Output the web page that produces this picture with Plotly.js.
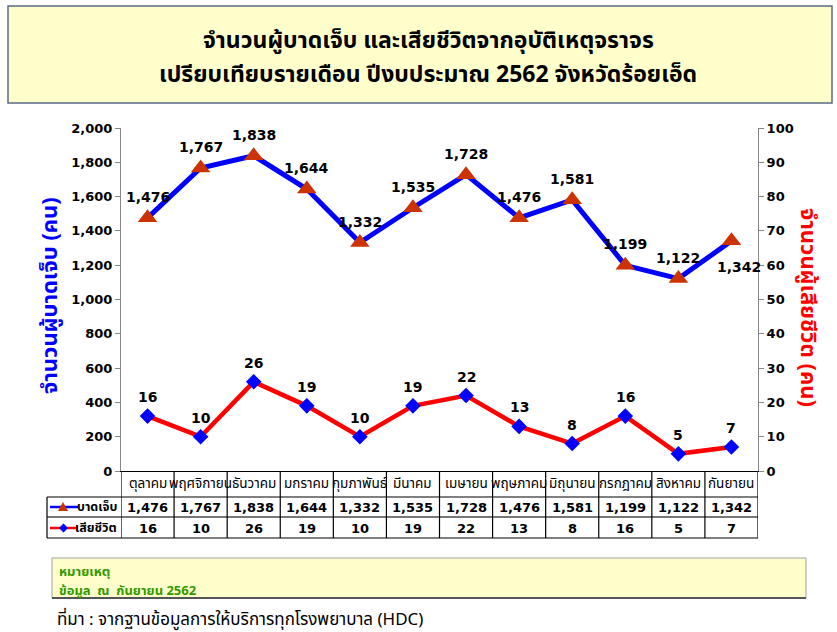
<!DOCTYPE html>
<html>
<head>
<meta charset="utf-8">
<script src="https://cdn.plot.ly/plotly-3.0.1.min.js"></script>
<style>
html,body{margin:0;padding:0;background:#fff;}
#chart{width:837px;height:632px;}
</style>
</head>
<body>
<div id="chart"></div>
<script>
// ---- data ----
var categories = ['ตุลาคม','พฤศจิกายน','ธันวาคม','มกราคม','กุมภาพันธ์','มีนาคม','เมษายน','พฤษภาคม','มิถุนายน','กรกฎาคม','สิงหาคม','กันยายน'];
var injured = [1476,1767,1838,1644,1332,1535,1728,1476,1581,1199,1122,1342];
var deaths = [16,10,26,19,10,19,22,13,8,16,5,7];
var seriesNames = ['บาดเจ็บ','เสียชีวิต'];
var titleLines = ['จำนวนผู้บาดเจ็บ และเสียชีวิตจากอุบัติเหตุจราจร','เปรียบเทียบรายเดือน ปีงบประมาณ 2562 จังหวัดร้อยเอ็ด'];
var leftTitle = 'จำนวนผู้บาดเจ็บ (คน)';
var rightTitle = 'จำนวนผู้เสียชีวิต (คน)';
var noteLines = ['หมายเหตุ','ข้อมูล  ณ  กันยายน 2562'];
var sourceText = 'ที่มา : จากฐานข้อมูลการให้บริการทุกโรงพยาบาล (HDC)';

// ---- geometry helpers (pixel -> paper) ----
var W = 837, H = 632;
var L = 121, R = 758, T = 128, B = 471;
function px(x){ return (x - L) / (R - L); }
function py(y){ return (B - y) / (B - T); }

var thai = 'Tahoma, "Noto Sans Thai", "Noto Sans", "DejaVu Sans", sans-serif';
var num = '"DejaVu Sans", Verdana, sans-serif';
function fmt(v){ return v.toLocaleString('en-US'); }

var traces = [
  {
    x: categories, y: injured, name: seriesNames[0], type: 'scatter', mode: 'lines+markers',
    line: {color: '#0000FF', width: 5},
    marker: {symbol: 'triangle-up', size: 17, color: '#CC3300', line: {width: 0}},
    yaxis: 'y', hoverinfo: 'skip', cliponaxis: false
  },
  {
    x: categories, y: deaths, name: seriesNames[1], type: 'scatter', mode: 'lines+markers',
    line: {color: '#FF0000', width: 4.5},
    marker: {symbol: 'diamond', size: 12, color: '#0000FF', line: {width: 0}},
    yaxis: 'y2', hoverinfo: 'skip', cliponaxis: false
  }
];

var annotations = [];
var shapes = [];

// title box
shapes.push({type:'rect', xref:'paper', yref:'paper', x0:px(8), x1:px(832), y0:py(103), y1:py(6),
  fillcolor:'#FFFFCC', line:{color:'#5A6A86', width:1.5}, layer:'below'});
annotations.push({xref:'paper', yref:'paper', x:px(428), y:py(41), text:'<b>'+titleLines[0]+'</b>',
  showarrow:false, font:{family:thai, size:23, color:'#000'}, xanchor:'center', yanchor:'middle'});
annotations.push({xref:'paper', yref:'paper', x:px(428), y:py(75), text:'<b>'+titleLines[1]+'</b>',
  showarrow:false, font:{family:thai, size:23, color:'#000'}, xanchor:'center', yanchor:'middle'});

// axis titles
annotations.push({xref:'paper', yref:'paper', x:px(50), y:py(296), text:'<b>'+leftTitle+'</b>', textangle:-90,
  showarrow:false, font:{family:thai, size:22, color:'#0000FF'}, xanchor:'center', yanchor:'middle'});
annotations.push({xref:'paper', yref:'paper', x:px(808), y:py(307), text:'<b>'+rightTitle+'</b>', textangle:90,
  showarrow:false, font:{family:thai, size:22, color:'#FF0000'}, xanchor:'center', yanchor:'middle'});

// data labels
for (var i = 0; i < categories.length; i++) {
  var last = (i === categories.length - 1);
  annotations.push({x:categories[i], y:injured[i], xref:'x', yref:'y', text:'<b>'+fmt(injured[i])+'</b>',
    showarrow:false, font:{family:num, size:14, color:'#000'}, yshift: last ? -26 : 21, xshift: last ? 8 : 0});
  annotations.push({x:categories[i], y:deaths[i], xref:'x', yref:'y2', text:'<b>'+deaths[i]+'</b>',
    showarrow:false, font:{family:num, size:14, color:'#000'}, yshift:19});
}

// data table
var rowCat = 484, row1 = 507, row2 = 528;
for (var i = 0; i < categories.length; i++) {
  annotations.push({x:categories[i], xref:'x', yref:'paper', y:py(rowCat), text:categories[i],
    showarrow:false, font:{family:thai, size:13.5, color:'#000'}, yanchor:'middle'});
  annotations.push({x:categories[i], xref:'x', yref:'paper', y:py(row1), text:'<b>'+fmt(injured[i])+'</b>',
    showarrow:false, font:{family:num, size:13, color:'#000'}, yanchor:'middle'});
  annotations.push({x:categories[i], xref:'x', yref:'paper', y:py(row2), text:'<b>'+deaths[i]+'</b>',
    showarrow:false, font:{family:num, size:13, color:'#000'}, yanchor:'middle'});
}
// table row labels
annotations.push({xref:'paper', yref:'paper', x:px(119), y:py(row1), text:'<b>'+seriesNames[0]+'</b>',
  showarrow:false, font:{family:thai, size:12.5, color:'#000'}, xanchor:'right', yanchor:'middle'});
annotations.push({xref:'paper', yref:'paper', x:px(119), y:py(row2), text:'<b>'+seriesNames[1]+'</b>',
  showarrow:false, font:{family:thai, size:12.5, color:'#000'}, xanchor:'right', yanchor:'middle'});
// legend keys
shapes.push({type:'line', xref:'paper', yref:'paper', x0:px(50), x1:px(78), y0:py(row1), y1:py(row1), line:{color:'#0000FF', width:2.5}});
shapes.push({type:'path', xref:'paper', yref:'paper',
  path:'M'+px(58)+','+py(row1+4)+' L'+px(68)+','+py(row1+4)+' L'+px(63)+','+py(row1-5)+' Z',
  fillcolor:'#CC3300', line:{width:0}});
shapes.push({type:'line', xref:'paper', yref:'paper', x0:px(50), x1:px(78), y0:py(row2), y1:py(row2), line:{color:'#FF0000', width:2.5}});
shapes.push({type:'path', xref:'paper', yref:'paper',
  path:'M'+px(59)+','+py(row2)+' L'+px(63.5)+','+py(row2-4.5)+' L'+px(68)+','+py(row2)+' L'+px(63.5)+','+py(row2+4.5)+' Z',
  fillcolor:'#0000FF', line:{width:0}});

// table grid lines
var hl = [[47,497,1.2,'#000'],[47,517,2,'#777'],[47,538,1.2,'#000']];
hl.forEach(function(h){
  shapes.push({type:'line', xref:'paper', yref:'paper', x0:px(h[0]), x1:1, y0:py(h[1]), y1:py(h[1]), line:{color:h[3], width:h[2]}});
});
shapes.push({type:'line', xref:'paper', yref:'paper', x0:px(47), x1:px(47), y0:py(497), y1:py(538), line:{color:'#000', width:1.2}});
for (var k = 0; k <= categories.length; k++) {
  shapes.push({type:'line', xref:'x', yref:'paper', x0:k-0.5, x1:k-0.5, y0:0, y1:py(538), line:{color:'#000', width:1.2}});
}

// note box
shapes.push({type:'rect', xref:'paper', yref:'paper', x0:px(52), x1:px(806), y0:py(598), y1:py(558),
  fillcolor:'#FFFFCC', line:{color:'#A0A0A0', width:1}, layer:'below'});
shapes.push({type:'line', xref:'paper', yref:'paper', x0:px(52), x1:px(806), y0:py(598), y1:py(598), line:{color:'#555', width:2}});
annotations.push({xref:'paper', yref:'paper', x:px(57), y:py(572), text:'<b>'+noteLines[0]+'</b>',
  showarrow:false, font:{family:thai, size:13, color:'#339900'}, xanchor:'left', yanchor:'middle'});
annotations.push({xref:'paper', yref:'paper', x:px(57), y:py(591), text:'<b>'+noteLines[1]+'</b>',
  showarrow:false, font:{family:thai, size:13, color:'#339900'}, xanchor:'left', yanchor:'middle'});
annotations.push({xref:'paper', yref:'paper', x:px(55), y:py(620), text:sourceText,
  showarrow:false, font:{family:thai, size:17, color:'#000'}, xanchor:'left', yanchor:'middle'});

var layout = {
  width: W, height: H, autosize: false,
  margin: {l: L, r: W - R, t: T, b: H - B, pad: 0},
  paper_bgcolor: '#fff', plot_bgcolor: '#fff',
  showlegend: false,
  xaxis: {type:'category', range:[-0.5, categories.length - 0.5], showticklabels:false, ticks:'',
    showgrid:false, zeroline:false, showline:true, linecolor:'#000', linewidth:1.2, fixedrange:true},
  yaxis: {range:[0, 2000], dtick:200, tickformat:',', ticks:'outside', ticklen:5, tickcolor:'#888', tickwidth:1,
    showline:true, linecolor:'#888', linewidth:1, showgrid:false, zeroline:false,
    tickfont:{family:num, size:13, color:'#000', weight:'bold'}, fixedrange:true},
  yaxis2: {range:[0, 100], dtick:10, overlaying:'y', side:'right', ticks:'outside', ticklen:5, tickcolor:'#888', tickwidth:1,
    showline:true, linecolor:'#888', linewidth:1, showgrid:false, zeroline:false,
    tickfont:{family:num, size:13, color:'#000', weight:'bold'}, fixedrange:true},
  shapes: shapes,
  annotations: annotations
};

Plotly.newPlot('chart', traces, layout, {displayModeBar:false, staticPlot:true});
</script>
</body>
</html>
